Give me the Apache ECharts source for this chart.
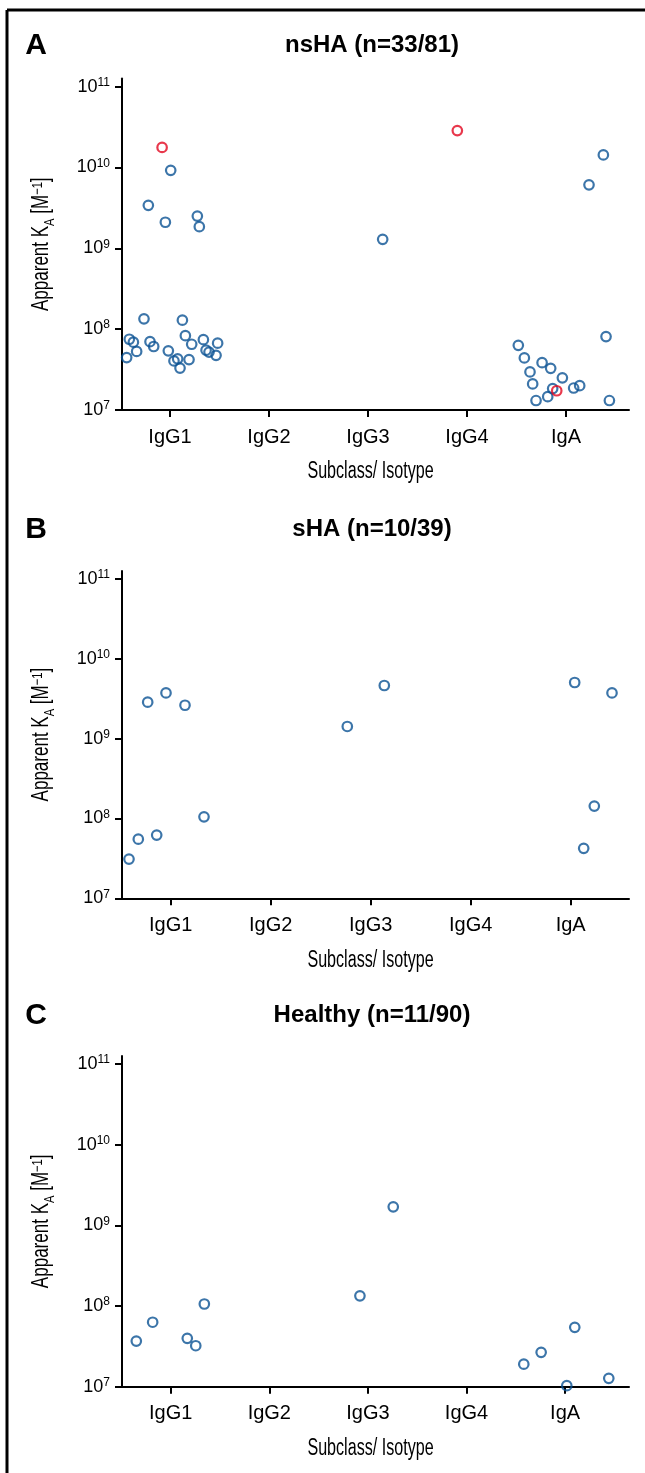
<!DOCTYPE html>
<html><head><meta charset="utf-8">
<script src="https://cdn.jsdelivr.net/npm/echarts@6/dist/echarts.min.js"></script>
<style>html,body{margin:0;padding:0;background:#fff}#c{width:645px;height:1473px}</style>
</head><body><div id="c"></div>
<script>
const categories = ['IgG1', 'IgG2', 'IgG3', 'IgG4', 'IgA'];
const yTickValues = [1e7, 1e8, 1e9, 1e10, 1e11];
const panelLetters = ['A', 'B', 'C'];
const panelTitles = ['nsHA (n=33/81)', 'sHA (n=10/39)', 'Healthy (n=11/90)'];
const xAxisTitle = 'Subclass/ Isotype';
const yAxisTitle = 'Apparent K{sub|A} [M{sup|\u22121}]';

// Panel A: nsHA  (cat, horizontal jitter within category, apparent KA, 1 = highlighted red)
const nsHA_cat = ['IgG1','IgG1','IgG1','IgG1','IgG1','IgG1','IgG1','IgG1','IgG1','IgG1','IgG1','IgG1','IgG1',
  'IgG1','IgG1','IgG1','IgG1','IgG1','IgG1','IgG1','IgG1','IgG1','IgG1','IgG1','IgG1','IgG1',
  'IgG3','IgG4',
  'IgA','IgA','IgA','IgA','IgA','IgA','IgA','IgA','IgA','IgA','IgA','IgA','IgA','IgA','IgA','IgA','IgA'];
const nsHA_jitter = [-0.08,0.007,-0.219,-0.047,0.276,0.296,-0.263,0.125,-0.411,-0.37,-0.337,-0.438,-0.202,
  -0.165,0.155,0.219,-0.017,0.04,0.077,0.101,0.192,0.337,0.364,0.394,0.465,0.481,
  0.148,-0.098,
  0.377,0.232,0.404,0.438,-0.482,-0.421,-0.364,-0.337,-0.303,-0.242,-0.155,-0.185,-0.135,-0.094,-0.037,0.077,0.138];
const nsHA_KA = [1.77e10,9.2e9,3.4e9,2.1e9,2.5e9,1.85e9,1.34e8,1.29e8,7.5e7,6.9e7,5.3e7,4.45e7,7.0e7,
  6.1e7,8.3e7,6.5e7,5.4e7,4.05e7,4.3e7,3.3e7,4.2e7,7.4e7,5.5e7,5.2e7,4.75e7,6.7e7,
  1.29e9,2.86e10,
  1.43e10,6.1e9,8.1e7,1.31e7,6.3e7,4.4e7,2.96e7,2.1e7,1.31e7,3.85e7,3.28e7,1.46e7,1.84e7,1.73e7,2.5e7,1.87e7,2.0e7];
const nsHA_red = [1,0,0,0,0,0,0,0,0,0,0,0,0,0,0,0,0,0,0,0,0,0,0,0,0,0,
  0,1,
  0,0,0,0,0,0,0,0,0,0,0,0,0,1,0,0,0];

// Panel B: sHA
const sHA_cat = ['IgG1','IgG1','IgG1','IgG1','IgG1','IgG1','IgG1','IgG3','IgG3','IgA','IgA','IgA','IgA'];
const sHA_jitter = [-0.417,-0.324,-0.14,-0.23,-0.047,0.143,0.333,-0.234,0.136,0.04,0.413,0.236,0.13];
const sHA_KA = [3.1e7,5.5e7,6.2e7,2.86e9,3.74e9,2.62e9,1.05e8,1.42e9,4.63e9,5.05e9,3.74e9,1.43e8,4.23e7];
const sHA_red = [0,0,0,0,0,0,0,0,0,0,0,0,0];

// Panel C: Healthy
const healthy_cat = ['IgG1','IgG1','IgG1','IgG1','IgG1','IgG3','IgG3','IgA','IgA','IgA','IgA','IgA'];
const healthy_jitter = [-0.349,-0.183,0.168,0.254,0.341,-0.081,0.257,-0.419,-0.243,0.098,0.017,0.443];
const healthy_KA = [3.68e7,6.3e7,3.98e7,3.22e7,1.06e8,1.34e8,1.7e9,1.9e7,2.67e7,5.45e7,1.03e7,1.27e7];
const healthy_red = [0,0,0,0,0,0,0,0,0,0,0,0];

const panels = [
  {cat: nsHA_cat, jit: nsHA_jitter, ka: nsHA_KA, red: nsHA_red},
  {cat: sHA_cat, jit: sHA_jitter, ka: sHA_KA, red: sHA_red},
  {cat: healthy_cat, jit: healthy_jitter, ka: healthy_KA, red: healthy_red}
];

// layout (pixels)
const gridBoxes = [
  {left: 122, top: 78.5, width: 507, height: 331.5, xmin: -0.485, xmax: 4.636},
  {left: 122, top: 571, width: 507, height: 327.3, xmin: -0.487, xmax: 4.583},
  {left: 122, top: 1056, width: 507, height: 330.7, xmin: -0.494, xmax: 4.648}
];
const titleY = [45, 529, 1015];

const BLUE = '#0b5393', RED = '#e2061f';
const SANS = 'Liberation Sans, Arial, sans-serif';
const catIdx = [0, 1, 2, 3, 4];

const grid = [], xAxis = [], yAxis = [], series = [];
const graphic = [
  {type: 'line', shape: {x1: 7, y1: 10, x2: 645, y2: 10}, style: {stroke: '#000', lineWidth: 3}},
  {type: 'line', shape: {x1: 7, y1: 10, x2: 7, y2: 1473}, style: {stroke: '#000', lineWidth: 3}}
];

gridBoxes.forEach((g, i) => {
  grid.push({left: g.left, top: g.top, width: g.width, height: g.height, containLabel: false});
  xAxis.push({
    type: 'value', gridIndex: i, min: g.xmin, max: g.xmax,
    axisLine: {show: true, onZero: false, lineStyle: {color: '#000', width: 2}},
    axisTick: {show: true, length: 7, customValues: catIdx, lineStyle: {color: '#000', width: 2}},
    axisLabel: {customValues: catIdx, formatter: v => categories[Math.round(v)],
      color: '#000', fontSize: 20, fontFamily: SANS, margin: 17},
    splitLine: {show: false}
  });
  yAxis.push({
    type: 'log', logBase: 10, gridIndex: i, min: 1e7, max: Math.pow(10, 11.1),
    axisLine: {show: true, onZero: false, lineStyle: {color: '#000', width: 2}},
    axisTick: {show: true, length: 7, customValues: yTickValues, lineStyle: {color: '#000', width: 2}},
    axisLabel: {customValues: yTickValues, margin: 12,
      formatter: v => '{b|10}{s|' + Math.round(Math.log10(v)) + '}',
      rich: {
        b: {fontSize: 18, fontFamily: SANS, color: '#000', lineHeight: 20},
        s: {fontSize: 12, fontFamily: SANS, color: '#000', lineHeight: 12, verticalAlign: 'top'}
      }},
    splitLine: {show: false}
  });
  const p = panels[i];
  const blue = [], red = [];
  p.ka.forEach((v, k) => {
    const pt = [categories.indexOf(p.cat[k]) + p.jit[k], v];
    (p.red[k] ? red : blue).push(pt);
  });
  const base = {type: 'scatter', xAxisIndex: i, yAxisIndex: i, symbol: 'circle', symbolSize: 9.5,
    clip: false, silent: true, animation: false};
  series.push(Object.assign({}, base, {data: blue,
    itemStyle: {color: 'rgba(0,0,0,0)', borderColor: BLUE, borderWidth: 2.2}}));
  series.push(Object.assign({}, base, {data: red,
    itemStyle: {color: 'rgba(0,0,0,0)', borderColor: RED, borderWidth: 2.2}}));

  // axis titles (condensed look via horizontal scaling)
  graphic.push({type: 'text', x: g.left + g.width / 2 - 5, y: g.top + g.height + 62, scaleX: 0.7,
    style: {text: xAxisTitle, font: '23px ' + SANS, fill: '#000', textAlign: 'center', textVerticalAlign: 'middle'}});
  graphic.push({type: 'text', x: 42, y: g.top + g.height / 2, rotation: Math.PI / 2, scaleX: 0.74,
    style: {text: yAxisTitle, font: '23px ' + SANS, fill: '#000', textAlign: 'center', textVerticalAlign: 'middle',
      rich: {
        sub: {fontSize: 15, fontFamily: SANS, fill: '#000', verticalAlign: 'bottom', lineHeight: 15, padding: [0, 0, -4, 0]},
        sup: {fontSize: 15, fontFamily: SANS, fill: '#000', verticalAlign: 'top', lineHeight: 15}
      }}});
});

panelLetters.forEach((L, i) => {
  graphic.push({type: 'text', x: 36, y: titleY[i] + 1,
    style: {text: L, font: 'bold 30px ' + SANS, fill: '#000', textAlign: 'center', textVerticalAlign: 'middle'}});
  graphic.push({type: 'text', x: 372, y: titleY[i],
    style: {text: panelTitles[i], font: 'bold 24px ' + SANS, fill: '#000', textAlign: 'center', textVerticalAlign: 'middle'}});
});

const chart = echarts.init(document.getElementById('c'), null, {renderer: 'canvas'});
chart.setOption({animation: false, backgroundColor: '#fff', grid, xAxis, yAxis, series, graphic});
</script></body></html>
